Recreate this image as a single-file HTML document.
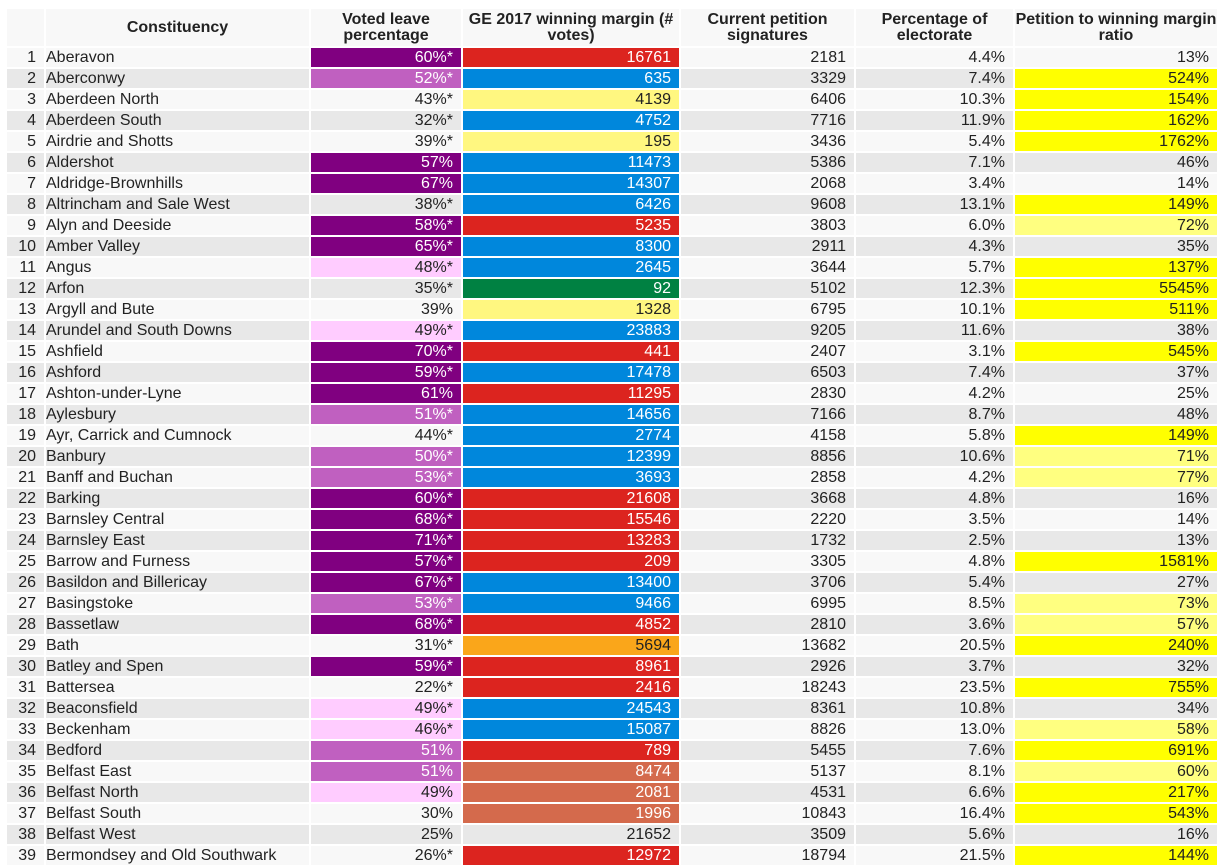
<!DOCTYPE html>
<html><head><meta charset="utf-8">
<style>
html,body{margin:0;padding:0;background:#fff;width:1223px;height:856px;overflow:hidden;}
table{position:absolute;left:5px;top:7px;border-collapse:separate;border-spacing:2px;table-layout:fixed;font-family:"Liberation Sans",sans-serif;font-size:16px;color:#222;}
th{background:#f8f8f8;font-weight:bold;height:37px;line-height:16px;padding:0;text-align:center;vertical-align:middle;}
td{height:19px;line-height:19px;padding:0 8px 0 1px;white-space:nowrap;overflow:hidden;text-align:right;}
td.name{text-align:left;padding-left:0px;}
tr.odd td{background:#f8f8f8;}
tr.even td{background:#e8e8e8;}
td.l1{background:#800080 !important;color:#fff;}
td.l2{background:#c060c0 !important;color:#fff;}
td.l3{background:#ffccff !important;}
td.C{background:#0087dc !important;color:#fff;}
td.L{background:#dc241f !important;color:#fff;}
td.S{background:#fff780 !important;}
td.P{background:#008142 !important;color:#fff;}
td.LD{background:#faa61a !important;}
td.D{background:#d46a4c !important;color:#fff;}
td.r1{background:#ffff00 !important;}
td.r2{background:#ffff80 !important;}
</style></head><body>
<table>
<colgroup><col style="width:37px"><col style="width:263px"><col style="width:150px"><col style="width:216px"><col style="width:173px"><col style="width:157px"><col style="width:202px"></colgroup>
<thead><tr>
<th></th>
<th>Constituency</th>
<th>Voted leave percentage</th>
<th>GE 2017 winning margin (# votes)</th>
<th>Current petition signatures</th>
<th>Percentage of electorate</th>
<th>Petition to winning margin ratio</th>
</tr></thead>
<tbody id="tb"></tbody>
</table>
<script>
const names=["Aberavon","Aberconwy","Aberdeen North","Aberdeen South","Airdrie and Shotts","Aldershot","Aldridge-Brownhills","Altrincham and Sale West","Alyn and Deeside","Amber Valley","Angus","Arfon","Argyll and Bute","Arundel and South Downs","Ashfield","Ashford","Ashton-under-Lyne","Aylesbury","Ayr, Carrick and Cumnock","Banbury","Banff and Buchan","Barking","Barnsley Central","Barnsley East","Barrow and Furness","Basildon and Billericay","Basingstoke","Bassetlaw","Bath","Batley and Spen","Battersea","Beaconsfield","Beckenham","Bedford","Belfast East","Belfast North","Belfast South","Belfast West","Bermondsey and Old Southwark"];
const leave=[60,52,43,32,39,57,67,38,58,65,48,35,39,49,70,59,61,51,44,50,53,60,68,71,57,67,53,68,31,59,22,49,46,51,51,49,30,25,26];
const leaveEst=[1,1,1,1,1,0,0,1,1,1,1,1,0,1,1,1,0,1,1,1,1,1,1,1,1,1,1,1,1,1,1,1,1,0,0,0,0,0,1];
const party=["L","C","S","C","S","C","C","C","L","C","C","P","S","C","L","C","L","C","C","C","C","L","L","L","L","C","C","L","LD","L","L","C","C","L","D","D","D","","L"];
const margin=[16761,635,4139,4752,195,11473,14307,6426,5235,8300,2645,92,1328,23883,441,17478,11295,14656,2774,12399,3693,21608,15546,13283,209,13400,9466,4852,5694,8961,2416,24543,15087,789,8474,2081,1996,21652,12972];
const sigs=[2181,3329,6406,7716,3436,5386,2068,9608,3803,2911,3644,5102,6795,9205,2407,6503,2830,7166,4158,8856,2858,3668,2220,1732,3305,3706,6995,2810,13682,2926,18243,8361,8826,5455,5137,4531,10843,3509,18794];
const pctElect=["4.4","7.4","10.3","11.9","5.4","7.1","3.4","13.1","6.0","4.3","5.7","12.3","10.1","11.6","3.1","7.4","4.2","8.7","5.8","10.6","4.2","4.8","3.5","2.5","4.8","5.4","8.5","3.6","20.5","3.7","23.5","10.8","13.0","7.6","8.1","6.6","16.4","5.6","21.5"];
const ratio=[13,524,154,162,1762,46,14,149,72,35,137,5545,511,38,545,37,25,48,149,71,77,16,14,13,1581,27,73,57,240,32,755,34,58,691,60,217,543,16,144];
const tb=document.getElementById('tb');
for(let i=0;i<names.length;i++){
  const tr=document.createElement('tr');
  tr.className=i%2?'even':'odd';
  
  
  const mk=(txt,cls,nm)=>{const td=document.createElement('td');td.textContent=txt;if(cls)td.className=cls;
    
    
    tr.appendChild(td);};
  mk(String(i+1),'','row-index');
  mk(names[i],'name','constituency-name');
  const l=leave[i];
  mk(l+'%'+(leaveEst[i]?'*':''),l>=55?'l1':l>=50?'l2':l>=45?'l3':'','voted-leave-cell');
  mk(String(margin[i]),party[i],'winning-margin-cell');
  mk(String(sigs[i]),'','petition-signatures-cell');
  mk(pctElect[i]+'%','','electorate-percentage-cell');
  const r=ratio[i];
  mk(r+'%',r>=100?'r1':r>=50?'r2':'','ratio-cell');
  tb.appendChild(tr);
}
</script>
</body></html>
